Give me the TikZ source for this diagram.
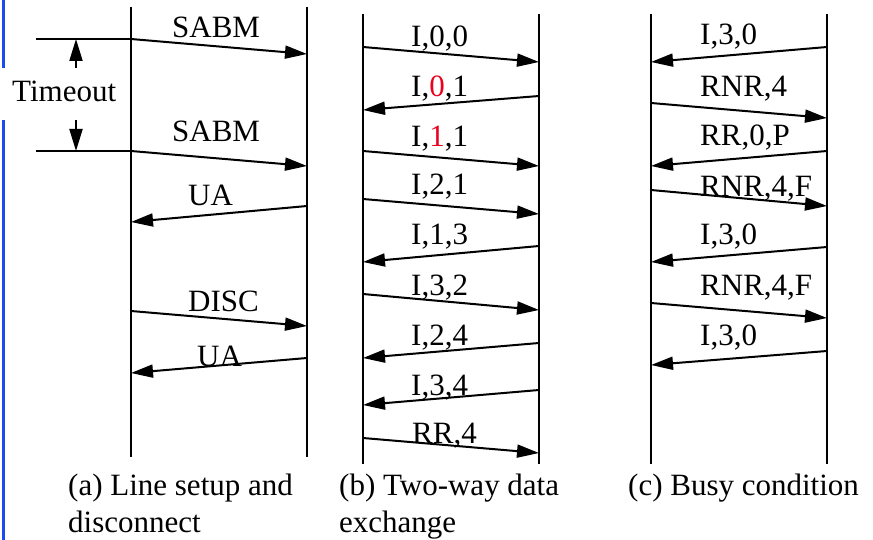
\documentclass[tikz,border=0pt]{standalone}
\usepackage{fontspec}
\setmainfont{Liberation Serif}
\usetikzlibrary{arrows.meta}
\definecolor{sideblue}{RGB}{25,75,240}
\definecolor{hlred}{RGB}{235,0,30}
\tikzset{
  lifeline/.style={line width=2pt},
  msg/.style={line width=2pt,-{Triangle[length=22pt,width=13pt]}},
  lbl/.style={inner sep=0pt,anchor=base west,font=\fontsize{31}{36}\selectfont},
  captext/.style={inner sep=0pt,anchor=base west,font=\fontsize{31}{36}\selectfont},
}
\begin{document}
\begin{tikzpicture}[x=1pt,y=-1pt]
\useasboundingbox (0,0) rectangle (873,540);
% side bar
\draw[sideblue,line width=3pt] (3.5,0) -- (3.5,540);
\fill[white] (0,68) rectangle (129,120);
% ---------- panel (a)
\coordinate (aLt) at (131,7);  \coordinate (aLb) at (131,457);
\coordinate (aRt) at (307,7);  \coordinate (aRb) at (307,457);
\draw[lifeline] (aLt) -- (aLb);
\draw[lifeline] (aRt) -- (aRb);
% timeout
\coordinate (t1s) at (36,39);  \coordinate (t1e) at (131,39);
\coordinate (t2s) at (36,151); \coordinate (t2e) at (131,151);
\draw[line width=2pt] (t1s) -- (t1e);
\draw[line width=2pt] (t2s) -- (t2e);
\coordinate (tu0) at (76,68);  \coordinate (tu1) at (76,39);
\coordinate (td0) at (76,120); \coordinate (td1) at (76,151);
\draw[msg] (tu0) -- (tu1);
\draw[msg] (td0) -- (td1);
\node[lbl] (timeout) at (12,102) {Timeout};
% messages
\coordinate (a1s) at (131,39);  \coordinate (a1e) at (307,54);
\coordinate (a2s) at (131,151); \coordinate (a2e) at (307,166);
\coordinate (a3s) at (307,206); \coordinate (a3e) at (131,222);
\coordinate (a4s) at (131,311); \coordinate (a4e) at (307,326);
\coordinate (a5s) at (307,358); \coordinate (a5e) at (131,373);
\foreach \i in {1,...,5} \draw[msg] (a\i s) -- (a\i e);
\node[lbl] (la1) at (172,38) {SABM};
\node[lbl] (la2) at (172,142) {SABM};
\node[lbl] (la3) at (188,206) {UA};
\node[lbl] (la4) at (188,311) {DISC};
\node[lbl] (la5) at (197,366) {UA};
% ---------- panel (b)
\coordinate (bLt) at (363,14); \coordinate (bLb) at (363,464);
\coordinate (bRt) at (539,14); \coordinate (bRb) at (539,464);
\draw[lifeline] (bLt) -- (bLb);
\draw[lifeline] (bRt) -- (bRb);
\foreach \n/\sx/\sy/\ex/\ey in {1/363/47/539/62, 2/539/96/363/110, 3/363/151/539/166,
  4/363/199/539/214, 5/539/246/363/262, 6/363/294/539/310, 7/539/343/363/358,
  8/539/390/363/405, 9/363/438/539/453}{
  \coordinate (b\n s) at (\sx,\sy); \coordinate (b\n e) at (\ex,\ey);
  \draw[msg] (b\n s) -- (b\n e);
}
\node[lbl] (lb1) at (411,47) {I,0,0};
\node[lbl] (lb2) at (411,97) {I,\textcolor{hlred}{0},1};
\node[lbl] (lb3) at (411,147) {I,\textcolor{hlred}{1},1};
\node[lbl] (lb4) at (411,195) {I,2,1};
\node[lbl] (lb5) at (411,245) {I,1,3};
\node[lbl] (lb6) at (411,295) {I,3,2};
\node[lbl] (lb7) at (411,345) {I,2,4};
\node[lbl] (lb8) at (411,395) {I,3,4};
\node[lbl] (lb9) at (412,443) {RR,4};
% ---------- panel (c)
\coordinate (cLt) at (651,14); \coordinate (cLb) at (651,464);
\coordinate (cRt) at (827,14); \coordinate (cRb) at (827,464);
\draw[lifeline] (cLt) -- (cLb);
\draw[lifeline] (cRt) -- (cRb);
\foreach \n/\sx/\sy/\ex/\ey in {1/827/47/651/62, 2/651/103/827/118, 3/827/151/651/166,
  4/651/190/827/206, 5/827/247/651/262, 6/651/303/827/318, 7/827/351/651/365}{
  \coordinate (c\n s) at (\sx,\sy); \coordinate (c\n e) at (\ex,\ey);
  \draw[msg] (c\n s) -- (c\n e);
}
\node[lbl] (lc1) at (700,45) {I,3,0};
\node[lbl] (lc2) at (700,97) {RNR,4};
\node[lbl] (lc3) at (700,146) {RR,0,P};
\node[lbl] (lc4) at (700,197) {RNR,4,F};
\node[lbl] (lc5) at (700,245) {I,3,0};
\node[lbl] (lc6) at (700,295) {RNR,4,F};
\node[lbl] (lc7) at (700,345) {I,3,0};
% ---------- captions
\node[captext] (capa1) at (68,495) {(a) Line setup and};
\node[captext] (capa2) at (68,532) {disconnect};
\node[captext] (capb1) at (339,495) {(b) Two-way data};
\node[captext] (capb2) at (339,532) {exchange};
\node[captext] (capc1) at (628,495) {(c) Busy condition};
\end{tikzpicture}
\end{document}
